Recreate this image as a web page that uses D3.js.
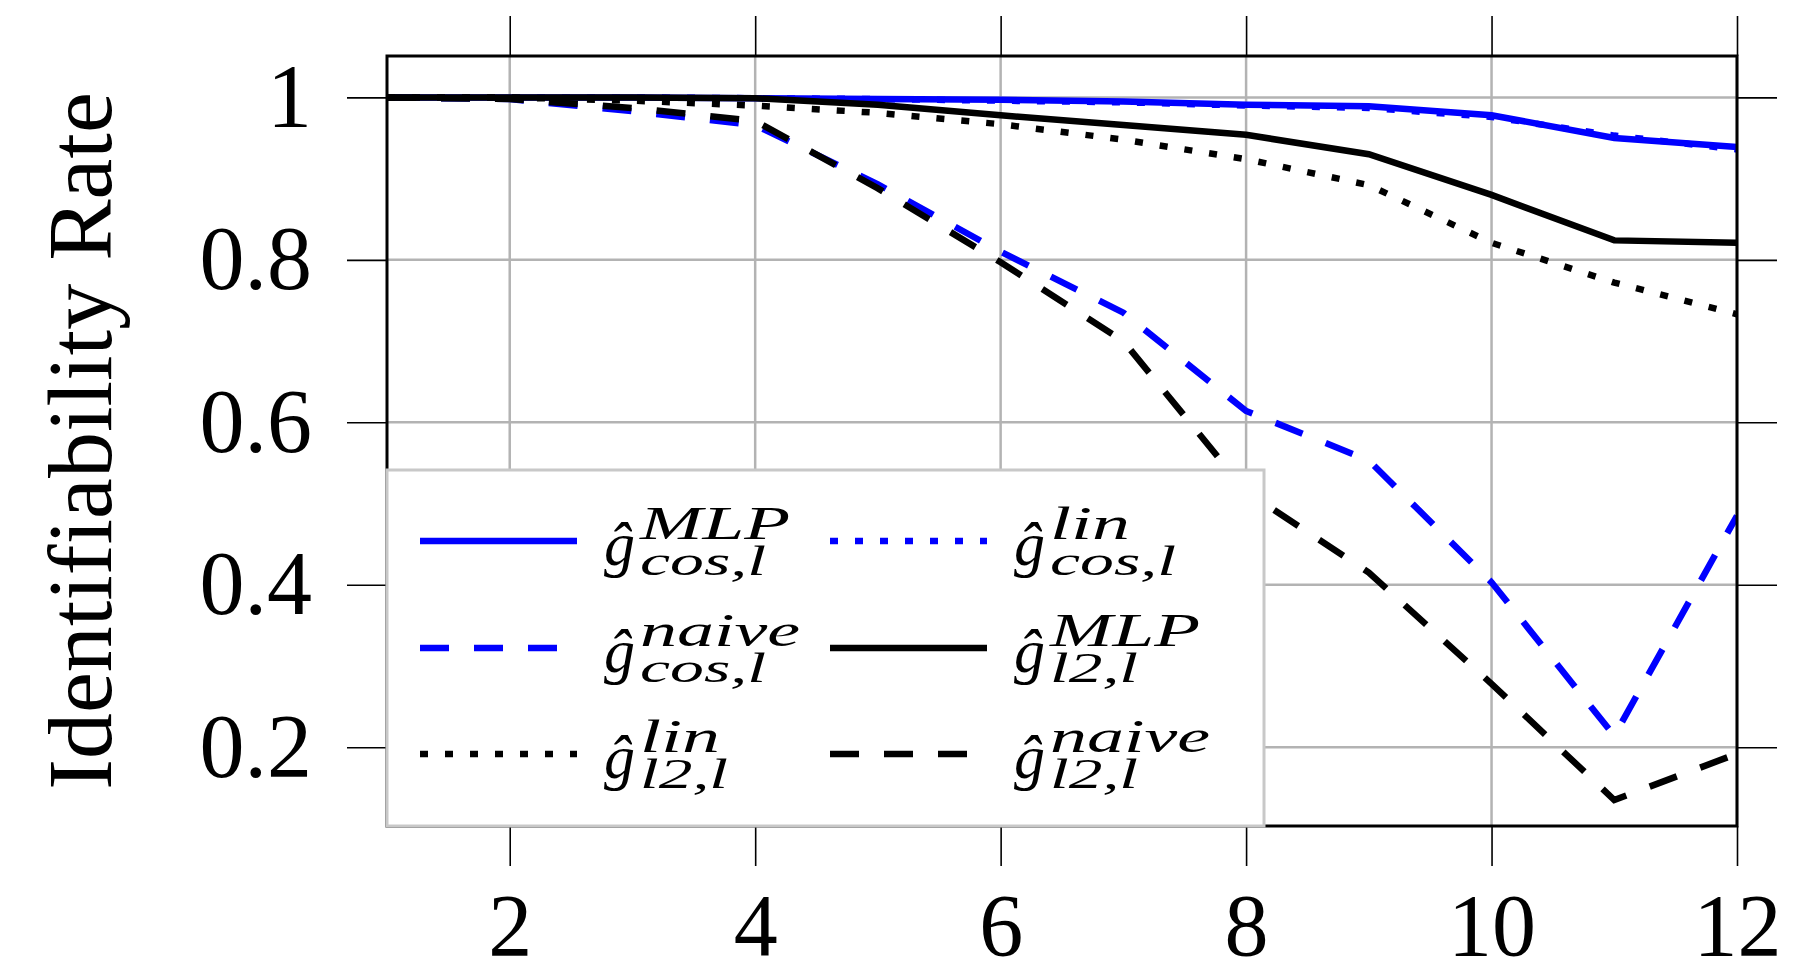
<!DOCTYPE html>
<html>
<head>
<meta charset="utf-8">
<script src="https://cdn.jsdelivr.net/npm/d3@7"></script>
</head>
<body style="margin:0;background:#fff">
<div id="chart"></div>
<script>
const layers = [1, 2, 3, 4, 5, 6, 7, 8, 9, 10, 11, 12];
const cosMLP   = [1, 1, 1, 0.999, 0.998, 0.997, 0.995, 0.991, 0.989, 0.978, 0.950, 0.939];
const cosLin   = [1, 1, 1, 0.999, 0.998, 0.996, 0.994, 0.990, 0.987, 0.976, 0.953, 0.936];
const cosNaive = [1, 0.998, 0.983, 0.966, 0.893, 0.810, 0.735, 0.614, 0.553, 0.403, 0.214, 0.485];
const l2MLP    = [1, 1, 1, 0.999, 0.991, 0.978, 0.966, 0.954, 0.930, 0.880, 0.824, 0.821];
const l2Lin    = [1, 1, 0.996, 0.990, 0.981, 0.967, 0.948, 0.924, 0.892, 0.821, 0.772, 0.733];
const l2Naive  = [1, 0.998, 0.987, 0.971, 0.888, 0.797, 0.700, 0.515, 0.415, 0.278, 0.135, 0.192];

const xTicks = [2, 4, 6, 8, 10, 12];
const yTicks = [0.2, 0.4, 0.6, 0.8, 1];
const yTickLabels = ["0.2", "0.4", "0.6", "0.8", "1"];

const series = [
  { vals: cosMLP,   color: "#0000ff", dash: null,    sup: "MLP",   sub: "cos,l" },
  { vals: cosLin,   color: "#0000ff", dash: "8,17",  sup: "lin",   sub: "cos,l" },
  { vals: cosNaive, color: "#0000ff", dash: "29,25", sup: "naive", sub: "cos,l" },
  { vals: l2MLP,    color: "#000000", dash: null,    sup: "MLP",   sub: "l2,l" },
  { vals: l2Lin,    color: "#000000", dash: "8,17",  sup: "lin",   sub: "l2,l" },
  { vals: l2Naive,  color: "#000000", dash: "29,25", sup: "naive", sub: "l2,l" }
];
const supWidth = { MLP: 150, lin: 80, naive: 160 };
const subWidth = { "cos,l": 126, "l2,l": 88 };

const FONT = '"Liberation Serif", "Times New Roman", serif';

const width = 1804;
const height = 962;
const margin = { top: 56, right: 67, bottom: 136, left: 387 };

const svg = d3.select("#chart").append("svg")
  .attr("width", width)
  .attr("height", height)
  .style("font-family", FONT);

const x = d3.scaleLinear()
  .domain([1, 12])
  .range([margin.left, width - margin.right]);

const y = d3.scaleLinear()
  .domain([0.103, 1.051])
  .range([height - margin.bottom, margin.top]);

// grid
svg.append("g")
  .selectAll("line")
  .data(xTicks)
  .join("line")
  .attr("x1", d => x(d)).attr("x2", d => x(d))
  .attr("y1", y.range()[0]).attr("y2", y.range()[1])
  .attr("stroke", "#b3b3b3").attr("stroke-width", 2.5);

svg.append("g")
  .selectAll("line")
  .data(yTicks)
  .join("line")
  .attr("x1", x.range()[0]).attr("x2", x.range()[1])
  .attr("y1", d => y(d)).attr("y2", d => y(d))
  .attr("stroke", "#b3b3b3").attr("stroke-width", 2.5);

// lines
svg.append("clipPath").attr("id", "plotclip")
  .append("rect")
  .attr("x", x.range()[0]).attr("y", y.range()[1])
  .attr("width", x.range()[1] - x.range()[0])
  .attr("height", y.range()[0] - y.range()[1]);

const line = d3.line()
  .x((d, i) => x(layers[i]))
  .y(d => y(d));

svg.append("g")
  .attr("clip-path", "url(#plotclip)")
  .selectAll("path")
  .data(series)
  .join("path")
  .attr("d", d => line(d.vals))
  .attr("fill", "none")
  .attr("stroke", d => d.color)
  .attr("stroke-width", 6.5)
  .attr("stroke-dasharray", d => d.dash);

// axes: ticks point outward on all sides
function ticksOnly(size) {
  return g => {
    g.attr("font-family", null);
    g.select(".domain").remove();
    g.selectAll(".tick line").attr("stroke", "#000").attr("stroke-width", 1.6);
    g.selectAll("text").style("font-family", FONT).attr("font-size", size).attr("fill", "#000");
  };
}

svg.append("g")
  .attr("transform", `translate(0,${y.range()[0]})`)
  .call(d3.axisBottom(x).tickValues(xTicks).tickSize(40).tickPadding(27).tickFormat(d3.format("d")))
  .call(ticksOnly(88));

svg.append("g")
  .attr("transform", `translate(0,${y.range()[1]})`)
  .call(d3.axisTop(x).tickValues(xTicks).tickSize(40).tickFormat(""))
  .call(ticksOnly(88));

svg.append("g")
  .attr("transform", `translate(${x.range()[0]},0)`)
  .call(d3.axisLeft(y).tickValues(yTicks).tickSize(40).tickPadding(35)
    .tickFormat((d, i) => yTickLabels[i]))
  .call(ticksOnly(90));

svg.append("g")
  .attr("transform", `translate(${x.range()[1]},0)`)
  .call(d3.axisRight(y).tickValues(yTicks).tickSize(40).tickFormat(""))
  .call(ticksOnly(90));

// box
svg.append("rect")
  .attr("x", x.range()[0]).attr("y", y.range()[1])
  .attr("width", x.range()[1] - x.range()[0])
  .attr("height", y.range()[0] - y.range()[1])
  .attr("fill", "none").attr("stroke", "#000").attr("stroke-width", 3);

// y label
svg.append("text")
  .attr("transform", `translate(111,${(y.range()[0] + y.range()[1]) / 2}) rotate(-90)`)
  .attr("text-anchor", "middle")
  .attr("font-size", 92)
  .style("font-family", FONT)
  .text("Identifiability Rate");

// legend
const legend = svg.append("g");
legend.append("rect")
  .attr("x", 387).attr("y", 470)
  .attr("width", 877).attr("height", 356)
  .attr("fill", "#fff").attr("stroke", "#c8c8c8").attr("stroke-width", 3);

const colX = [420, 830];
const rowY = [541, 648, 754];

const item = legend.selectAll("g.item")
  .data(series)
  .join("g")
  .attr("class", "item")
  .attr("transform", (d, i) => `translate(${colX[i % 2]},${rowY[Math.floor(i / 2)]})`);

item.append("line")
  .attr("x1", 0).attr("x2", d => d.dash === "29,25" ? 138 : 157)
  .attr("y1", 0).attr("y2", 0)
  .attr("stroke", d => d.color)
  .attr("stroke-width", 6.5)
  .attr("stroke-dasharray", d => d.dash);

item.append("text")
  .attr("x", 184).attr("y", 24)
  .attr("font-size", 62).attr("font-style", "italic")
  .style("font-family", FONT)
  .text("ĝ");

item.append("text")
  .attr("x", 220).attr("y", -2)
  .attr("font-size", 46).attr("font-style", "italic")
  .style("font-family", FONT)
  .attr("textLength", d => supWidth[d.sup])
  .attr("lengthAdjust", "spacingAndGlyphs")
  .text(d => d.sup);

item.append("text")
  .attr("x", 220).attr("y", 34)
  .attr("font-size", 42).attr("font-style", "italic")
  .style("font-family", FONT)
  .attr("textLength", d => subWidth[d.sub])
  .attr("lengthAdjust", "spacingAndGlyphs")
  .text(d => d.sub);
</script>
</body>
</html>
